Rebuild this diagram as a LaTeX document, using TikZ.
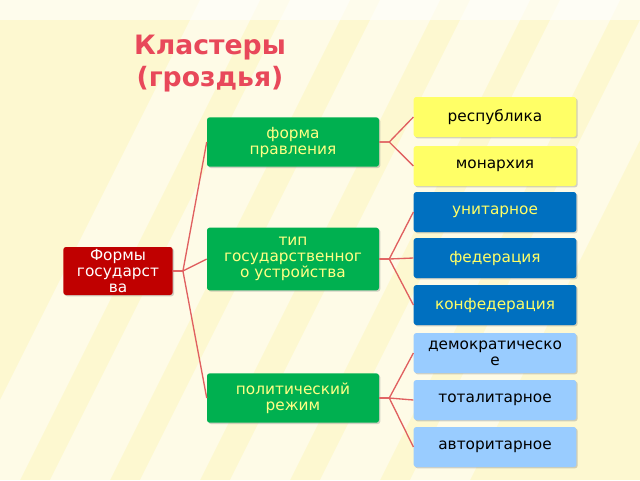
\documentclass[tikz,border=0pt]{standalone}
\usepackage{fontspec}
\setmainfont{DejaVu Sans}
\usetikzlibrary{shadows}
\definecolor{bg}{HTML}{FDF8D0}
\definecolor{ttl}{HTML}{E8485A}
\definecolor{rootc}{HTML}{C00000}
\definecolor{grn}{HTML}{00B050}
\definecolor{yel}{HTML}{FFFF66}
\definecolor{blu}{HTML}{0070C0}
\definecolor{lblu}{HTML}{99CCFF}
\definecolor{ln}{HTML}{E06060}
\begin{document}
\begin{tikzpicture}[x=0.75pt,y=-0.75pt,
  box/.style={rectangle,rounded corners=2pt,align=center,font=\fontsize{11.5}{12}\selectfont,inner sep=1pt,drop shadow={opacity=0.35,shadow xshift=1pt,shadow yshift=-1pt}},
  lvl1/.style={box,fill=grn,text=yel!80!white,minimum width=129pt},
  leaf/.style={box,minimum width=122pt,minimum height=30pt},
  conn/.style={draw=ln,line width=1pt}]
\useasboundingbox (0,0) rectangle (640,480);
\fill[bg] (0,0) rectangle (640,480);
\foreach \a in {0,90,180,270,360,450}{\fill[white,opacity=0.5] (\a+200,0) -- (\a+260,0) -- (\a+20,480) -- (\a-40,480) -- cycle;}
\fill[white,opacity=0.6] (0,0) rectangle (640,20);
\node[font=\fontsize{20}{24}\selectfont\bfseries,text=ttl,align=center] (t) at (210,64) {Кластеры\\(гроздья)};
\node[box,fill=rootc,text=white,minimum width=82pt,minimum height=36pt] (r) at (118,271) {Формы\\государст\\ва};
\node[lvl1,minimum height=37pt] (a) at (293,142) {форма\\правления};
\node[lvl1,minimum height=47pt] (b) at (293,259) {тип\\государственног\\о устройства};
\node[lvl1,minimum height=37pt] (c) at (293,398) {политический\\режим};
\node[leaf,fill=yel] (a1) at (495,117) {республика};
\node[leaf,fill=yel] (a2) at (495,166) {монархия};
\node[leaf,fill=blu,text=yel] (b1) at (495,212) {унитарное};
\node[leaf,fill=blu,text=yel] (b2) at (495,258) {федерация};
\node[leaf,fill=blu,text=yel] (b3) at (495,305) {конфедерация};
\node[leaf,fill=lblu] (c1) at (495,353) {демократическо\\е};
\node[leaf,fill=lblu] (c2) at (495,400) {тоталитарное};
\node[leaf,fill=lblu] (c3) at (495,447) {авторитарное};
\foreach \p/\q in {r/a,r/b,r/c,a/a1,a/a2,b/b1,b/b2,b/b3,c/c1,c/c2,c/c3}{
  \draw[conn] (\p.east) -- ++(10,0) -- (\q.west);}
\end{tikzpicture}
\end{document}
